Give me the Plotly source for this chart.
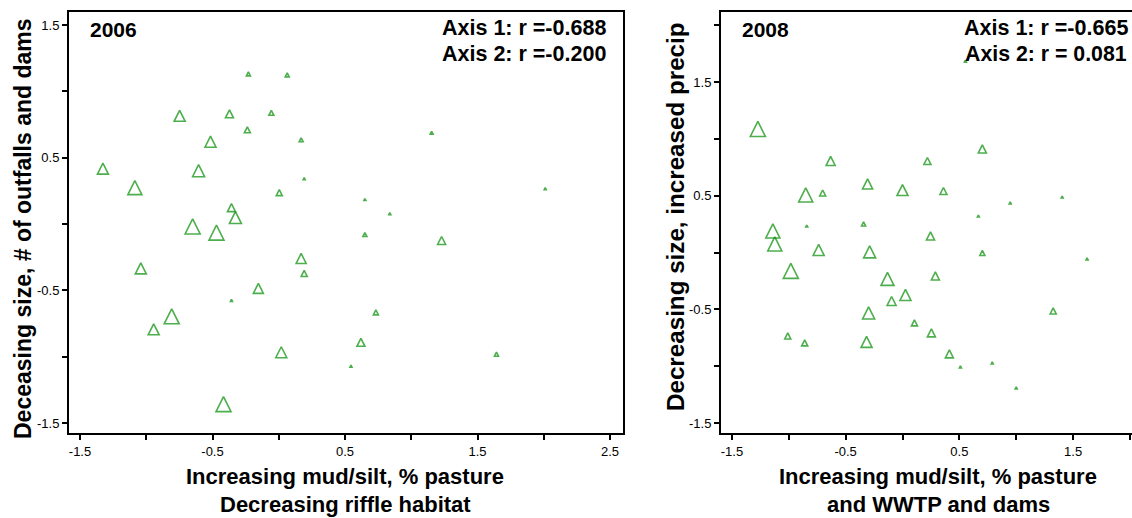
import plotly.graph_objects as go

W, H = 1132, 518
GREEN = "rgb(0,140,0)"
FONT = "Liberation Sans, Arial, Helvetica, sans-serif"

# ---------------- 2006 panel data (axis 1, axis 2, marker size) ----------------
x06 = [-0.229, 0.064, -0.748, -0.372, -0.056, -0.237, 0.169, -0.515, 1.154, -1.327,
       -0.605, 0.192, -1.086, 0.004, 0.650, -0.357, 2.011, 0.838, -0.327, -0.650,
       -0.470, 0.650, 1.229, -1.041, 0.169, 0.192, -0.154, -0.357, 0.733, -0.808,
       -0.944, 0.620, 0.019, 0.545, 1.643, -0.417]
y06 = [1.147, 1.139, 0.857, 0.861, 0.857, 0.733, 0.650, 0.662, 0.699, 0.459,
       0.447, 0.350, 0.327, 0.259, 0.192, 0.154, 0.274, 0.086, 0.094, 0.038,
       -0.008, -0.064, -0.094, -0.293, -0.222, -0.350, -0.447, -0.568, -0.647, -0.639,
       -0.752, -0.861, -0.925, -1.064, -0.966, -1.301]
s06 = [4, 4, 11, 8, 5, 6, 4, 11, 3, 11,
       12, 2, 14, 6, 2, 8, 2, 2, 12, 15,
       15, 4, 8, 11, 10, 6, 10, 2, 5, 15,
       11, 8, 11, 2, 4, 15]

# ---------------- 2008 panel data ----------------
x08 = [-1.272, -0.632, -0.851, -0.702, -0.307, 0.000, -0.842, -0.342, -1.140, -1.123,
       -0.737, -0.289, -0.982, -0.132, 0.026, -0.096, -0.298, 0.105, -1.009, -0.860,
       -0.316, 0.702, 0.219, 0.360, 0.947, 1.404, 0.667, 0.553, 0.246, 0.702,
       1.623, 0.289, 1.325, 0.254, 0.412, 0.509, 0.789, 1.000]
y08 = [1.153, 0.845, 0.568, 0.550, 0.647, 0.598, 0.242, 0.269, 0.251, 0.137,
       0.071, 0.058, -0.096, -0.175, -0.325, -0.387, -0.479, -0.593, -0.708, -0.769,
       -0.738, 0.946, 0.836, 0.572, 0.445, 0.497, 0.330, 1.693, 0.181, 0.018,
       -0.048, -0.171, -0.488, -0.672, -0.857, -0.998, -0.963, -1.183]
s08 = [15, 9, 14, 6, 10, 11, 2, 4, 14, 14,
       11, 12, 15, 13, 11, 9, 12, 6, 6, 6,
       11, 8, 7, 7, 2, 2, 2, 2, 8, 5,
       2, 8, 6, 8, 8, 2, 2, 2]

# ---------------- tick definitions ----------------
x06_ticks = [-1.5, -1.0, -0.5, 0.0, 0.5, 1.0, 1.5, 2.0, 2.5]
x06_text = ["-1.5", "", "-0.5", "", "0.5", "", "1.5", "", "2.5"]
y06_ticks = [-1.5, -1.0, -0.5, 0.0, 0.5, 1.0, 1.5]
y06_text = ["-1.5", "", "-0.5", "", "0.5", "", "1.5"]
x08_ticks = [-1.5, -1.0, -0.5, 0.0, 0.5, 1.0, 1.5, 2.0]
x08_text = ["-1.5", "", "-0.5", "", "0.5", "", "1.5", ""]
y08_ticks = [-1.5, -1.0, -0.5, 0.0, 0.5, 1.0, 1.5, 2.0]
y08_text = ["-1.5", "", "-0.5", "", "0.5", "", "1.5", ""]

fig = go.Figure()

def marker(sizes):
    return dict(symbol="arrow-up-open", size=sizes, color=GREEN,
                line=dict(color=GREEN, width=1.6))

fig.add_trace(go.Scatter(x=x06, y=y06, mode="markers", marker=marker(s06),
                         xaxis="x", yaxis="y", showlegend=False, name="2006"))
fig.add_trace(go.Scatter(x=x08, y=y08, mode="markers", marker=marker(s08),
                         xaxis="x2", yaxis="y2", showlegend=False, name="2008"))

def axis(**kw):
    base = dict(showgrid=False, zeroline=False, showline=True, linecolor="black",
                linewidth=2, ticks="outside", ticklen=5, tickwidth=1.5,
                tickcolor="black", tickmode="array",
                tickfont=dict(family=FONT, size=13, color="black"))
    base.update(kw)
    return base

ydom = [1 - 433 / H, 1 - 12 / H]
fig.update_layout(
    width=W, height=H, autosize=False,
    margin=dict(l=0, r=0, t=0, b=0),
    paper_bgcolor="white", plot_bgcolor="white",
    xaxis=axis(domain=[69 / W, 623 / W], range=[-1.583, 2.598], anchor="y",
               tickvals=x06_ticks, ticktext=x06_text, mirror=True),
    yaxis=axis(domain=ydom, range=[-1.575, 1.598], anchor="x",
               tickvals=y06_ticks, ticktext=y06_text, mirror=True),
    xaxis2=axis(domain=[721 / W, 1.0], range=[-1.596, 2.018], anchor="y2",
                tickvals=x08_ticks, ticktext=x08_text, mirror=True),
    yaxis2=axis(domain=ydom, range=[-1.588, 2.116], anchor="x2",
                tickvals=y08_ticks, ticktext=y08_text, mirror=False),
)

def ann(text, x, y, size, xanchor="center", angle=0):
    fig.add_annotation(text=text, x=x / W, y=1 - y / H, xref="paper", yref="paper",
                       xanchor=xanchor, yanchor="middle", showarrow=False,
                       textangle=angle,
                       font=dict(family=FONT, size=size, color="black"))

B = lambda s: "<b>" + s + "</b>"
# panel labels and correlations
ann(B("2006"), 88, 29, 21, xanchor="left")
ann(B("Axis 1: r =-0.688"), 608, 28, 21.5, xanchor="right")
ann(B("Axis 2: r =-0.200"), 608, 54, 21.5, xanchor="right")
ann(B("2008"), 740, 29, 21, xanchor="left")
ann(B("Axis 1: r =-0.665"), 1130, 28, 21.5, xanchor="right")
ann(B("Axis 2: r = 0.081"), 1129, 54, 21.3, xanchor="right")
# axis titles
ann(B("Increasing mud/silt, % pasture"), 345, 476, 22)
ann(B("Decreasing riffle habitat"), 345, 504, 22)
ann(B("Increasing mud/silt, % pasture"), 938, 476, 22)
ann(B("and WWTP and dams"), 938, 504, 22)
ann(B("Deceasing size, # of outfalls and dams"), 23, 229, 23, angle=-90)
ann(B("Decreasing size, increased precip"), 676, 217, 24.2, angle=-90)

fig.write_html("out.html",
               config={"displayModeBar": False},
               post_script="document.body.style.margin='0';"
                           "document.body.style.overflow='hidden';")
